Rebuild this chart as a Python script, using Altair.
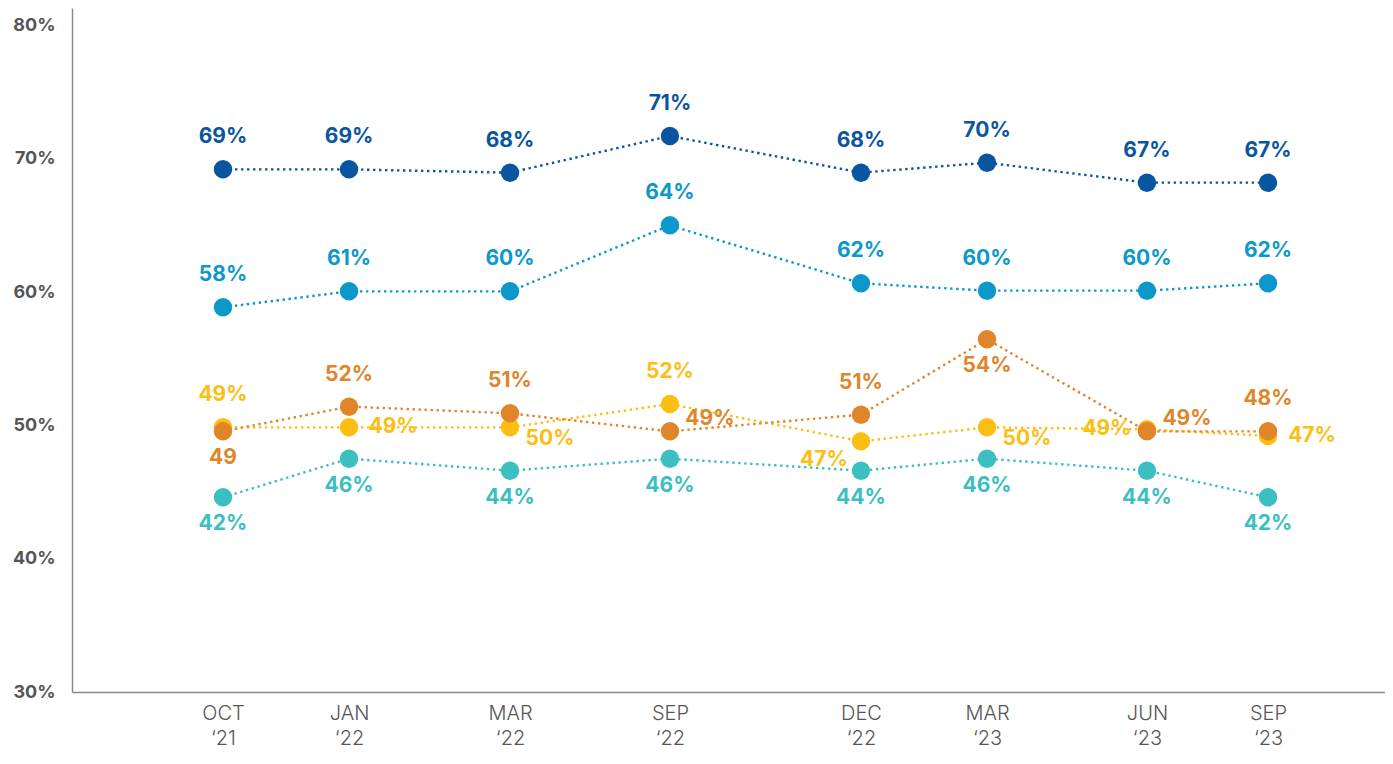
import json
import altair as alt
import pandas as pd

# ---- data ----
period_labels = ["OCT|‘21", "JAN|‘22", "MAR|‘22", "SEP|‘22", "DEC|‘22", "MAR|‘23", "JUN|‘23", "SEP|‘23"]
period_pos = [11.50, 21.10, 33.36, 45.54, 60.09, 69.69, 81.87, 91.09]

series_names = ["Series A", "Series B", "Series C", "Series D", "Series E"]
series_colors = ["#3bbfc0", "#fdbe14", "#e0852a", "#0d98cc", "#0a55a0"]

values_a = [44.6, 47.5, 46.6, 47.5, 46.6, 47.5, 46.6, 44.6]
values_b = [49.85, 49.85, 49.85, 51.6, 48.8, 49.85, 49.7, 49.2]
values_c = [49.55, 51.4, 50.9, 49.55, 50.8, 56.45, 49.55, 49.55]
values_d = [58.85, 60.05, 60.05, 65.0, 60.65, 60.1, 60.1, 60.65]
values_e = [69.2, 69.2, 68.95, 71.7, 68.95, 69.7, 68.2, 68.2]

labels_a = ["42%", "46%", "44%", "46%", "44%", "46%", "44%", "42%"]
labels_b = ["49%", "49%", "50%", "52%", "47%", "50%", "49%", "47%"]
labels_c = ["49", "52%", "51%", "49%", "51%", "54%", "49%", "48%"]
labels_d = ["58%", "61%", "60%", "64%", "62%", "60%", "60%", "62%"]
labels_e = ["69%", "69%", "68%", "71%", "68%", "70%", "67%", "67%"]

place_a = ["below"] * 8
place_b = ["above", "right", "right_below", "above", "left_below", "right_below", "left", "right"]
place_c = ["below", "above", "above", "right_up", "above", "below", "right_up", "above"]
place_d = ["above"] * 8
place_e = ["above"] * 8

y_ticks = [30, 40, 50, 60, 70, 80]

# ---- table ----
rows = []
for name, vals, labs, plc in zip(
    series_names,
    [values_a, values_b, values_c, values_d, values_e],
    [labels_a, labels_b, labels_c, labels_d, labels_e],
    [place_a, place_b, place_c, place_d, place_e],
):
    for i, (xp, v, lab, p) in enumerate(zip(period_pos, vals, labs, plc)):
        rows.append({"series": name, "order": i, "x": xp, "value": v, "label": lab, "pos": p})
df = pd.DataFrame(rows)

FONT = "Inter"
GRAY = "#555555"

x_label_expr = "".join(
    f"datum.value == {p} ? {json.dumps(l.split('|'), ensure_ascii=False)} : "
    for p, l in zip(period_pos, period_labels)
) + "''"

x_enc = alt.X(
    "x:Q",
    scale=alt.Scale(domain=[0, 100], nice=False, zero=False),
    axis=alt.Axis(
        values=period_pos, labelExpr=x_label_expr, title=None, grid=False, ticks=False,
        domainColor="#8a8a8a", domainWidth=1.5, labelFont=FONT, labelFontSize=20,
        labelColor=GRAY, labelPadding=11, labelLineHeight=25, labelBaseline="top",
        labelFontWeight=300,
    ),
)
y_enc = alt.Y(
    "value:Q",
    scale=alt.Scale(domain=[30, 81.3], nice=False, zero=False),
    axis=alt.Axis(
        values=y_ticks, labelExpr="datum.value + '%'", title=None, grid=False, ticks=False,
        domainColor="#8a8a8a", domainWidth=1.5, labelFont=FONT, labelFontSize=18,
        labelFontWeight="bold", labelColor=GRAY, labelPadding=17,
    ),
)
color_enc = alt.Color(
    "series:N", scale=alt.Scale(domain=series_names, range=series_colors), legend=None
)

base = alt.Chart(df)

lines = base.mark_line(strokeDash=[2.4, 3.6], strokeWidth=2.4, strokeCap="butt").encode(
    x=x_enc, y=y_enc, color=color_enc, detail="series:N", order="order:Q"
)
points = base.mark_circle(size=340, opacity=1).encode(x=x_enc, y=y_enc, color=color_enc)

offsets = {
    "above": (0, -32),
    "below": (0, 27),
    "right": (44, 0),
    "left": (-40, 0),
    "right_below": (40, 12),
    "left_below": (-37, 19),
    "right_up": (40, -12),
}
text_layers = []
for p, (dx, dy) in offsets.items():
    text_layers.append(
        base.transform_filter(alt.datum.pos == p)
        .mark_text(font=FONT, fontSize=21, fontWeight="bold", dx=dx, dy=dy,
                   align="center", baseline="middle")
        .encode(x=x_enc, y=y_enc, color=color_enc, text="label:N")
    )

chart = (
    alt.layer(lines, points, *text_layers)
    .properties(
        width=1313, height=684,
        autosize=alt.AutoSizeParams(type="none"),
        padding={"left": 64, "top": 0, "right": 0, "bottom": 60},
        background="white",
    )
    .configure_view(stroke=None)
)

chart.save("out.html", embed_options={"renderer": "svg", "actions": False})
